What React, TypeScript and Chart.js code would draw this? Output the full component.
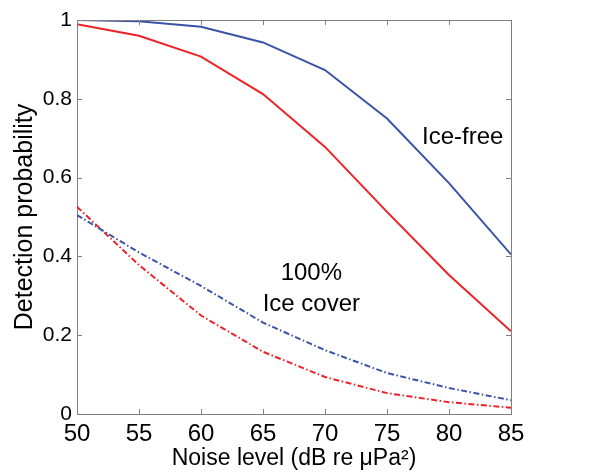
import React, { useEffect, useRef } from "react";
import { Chart, registerables } from "chart.js";

Chart.register(...registerables);

const noiseLevels = [50, 55, 60, 65, 70, 75, 80, 85];
const iceFreeBlue = [1.0, 0.997, 0.983, 0.943, 0.873, 0.75, 0.586, 0.405];
const iceFreeRed = [0.989, 0.96, 0.907, 0.812, 0.678, 0.513, 0.353, 0.21];
const iceCoverBlue = [0.505, 0.41, 0.325, 0.232, 0.162, 0.104, 0.066, 0.035];
const iceCoverRed = [0.526, 0.378, 0.25, 0.158, 0.094, 0.053, 0.03, 0.016];
const yTicks = [0, 0.2, 0.4, 0.6, 0.8, 1];
const xTicks = [50, 55, 60, 65, 70, 75, 80, 85];
const annotations = [
  { text: "Ice-free", x: 81.1, y: 0.703 },
  { text: "100%", x: 68.9, y: 0.358 },
  { text: "Ice cover", x: 68.9, y: 0.277 },
];

const FONT = "'Liberation Sans', Arial, sans-serif";
const BLUE = "#3953a8";
const RED = "#ee2226";
const AXIS = "#808080";
const DASH = [6, 2.5, 1.5, 2.5];

const boxPlugin = {
  id: "boxTicks",
  afterDatasetsDraw(chart: any) {
    const { ctx, chartArea, scales } = chart;
    const { left, right, top, bottom } = chartArea;
    ctx.save();
    ctx.strokeStyle = AXIS;
    ctx.lineWidth = 1;
    ctx.beginPath();
    ctx.moveTo(left, top + 0.5);
    ctx.lineTo(right + 0.5, top + 0.5);
    ctx.lineTo(right + 0.5, bottom);
    ctx.stroke();
    const L = 5;
    ctx.beginPath();
    xTicks.forEach((v) => {
      const px = Math.round(scales.x.getPixelForValue(v)) + 0.5;
      ctx.moveTo(px, bottom);
      ctx.lineTo(px, bottom - L);
      ctx.moveTo(px, top);
      ctx.lineTo(px, top + L);
    });
    yTicks.forEach((v) => {
      const py = Math.round(scales.y.getPixelForValue(v)) + 0.5;
      ctx.moveTo(left, py);
      ctx.lineTo(left + L, py);
      ctx.moveTo(right, py);
      ctx.lineTo(right - L, py);
    });
    ctx.stroke();
    ctx.fillStyle = "#000";
    ctx.font = `24px ${FONT}`;
    ctx.textAlign = "center";
    ctx.textBaseline = "middle";
    annotations.forEach((a) => {
      ctx.fillText(a.text, scales.x.getPixelForValue(a.x), scales.y.getPixelForValue(a.y));
    });
    ctx.restore();
  },
};

export default function App() {
  const ref = useRef<HTMLCanvasElement | null>(null);
  useEffect(() => {
    if (!ref.current) return;
    const mk = (data: number[]) => noiseLevels.map((x, i) => ({ x, y: data[i] }));
    const chart = new Chart(ref.current, {
      type: "line",
      data: {
        datasets: [
          { data: mk(iceFreeBlue), borderColor: BLUE, borderWidth: 2, pointRadius: 0, tension: 0 },
          { data: mk(iceFreeRed), borderColor: RED, borderWidth: 2, pointRadius: 0, tension: 0 },
          { data: mk(iceCoverBlue), borderColor: BLUE, borderWidth: 2, borderDash: DASH, pointRadius: 0, tension: 0 },
          { data: mk(iceCoverRed), borderColor: RED, borderWidth: 2, borderDash: DASH, pointRadius: 0, tension: 0 },
        ],
      },
      options: {
        animation: false,
        responsive: false,
        maintainAspectRatio: false,
        layout: { padding: { top: 20, right: 105, left: 0, bottom: 0 } },
        plugins: { legend: { display: false }, tooltip: { enabled: false } },
        scales: {
          x: {
            type: "linear",
            min: 50,
            max: 85,
            afterBuildTicks: (s: any) => { s.ticks = xTicks.map((v) => ({ value: v })); },
            afterFit: (s: any) => { s.height = 62; },
            grid: { display: false, drawTicks: false },
            border: { display: true, color: AXIS, width: 1 },
            ticks: { color: "#000", font: { family: FONT, size: 24 }, padding: 6, maxRotation: 0 },
            title: {
              display: true,
              text: "Noise level (dB re \u03bcPa\u00b2)",
              color: "#000",
              font: { family: FONT, size: 23 },
              padding: { top: 0, bottom: 4 },
            },
          },
          y: {
            type: "linear",
            min: 0,
            max: 1,
            afterBuildTicks: (s: any) => { s.ticks = yTicks.map((v) => ({ value: v })); },
            afterFit: (s: any) => { s.width = 77; },
            grid: { display: false, drawTicks: false },
            border: { display: true, color: AXIS, width: 1 },
            ticks: {
              color: "#000",
              font: { family: FONT, size: 21 },
              padding: 5,
              callback: (v: any) => String(Number(v)),
            },
            title: {
              display: true,
              text: "Detection probability",
              color: "#000",
              font: { family: FONT, size: 25 },
              padding: { top: 10, bottom: 0 },
            },
          },
        },
      },
      plugins: [boxPlugin],
    });
    return () => chart.destroy();
  }, []);
  return (
    <div style={{ position: "fixed", left: 0, top: 0, width: 616, height: 476, background: "#fff" }}>
      <canvas ref={ref} width={616} height={476} style={{ width: 616, height: 476 }} />
    </div>
  );
}
